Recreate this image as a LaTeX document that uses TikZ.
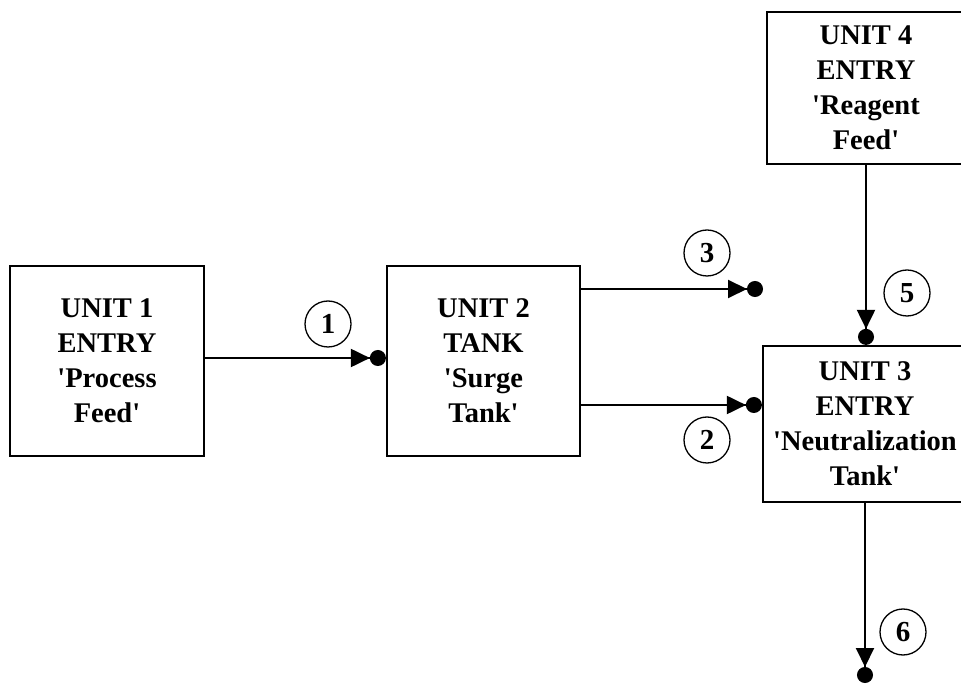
\documentclass[tikz,border=0pt]{standalone}
\usepackage{fontspec}
\setmainfont{Liberation Serif}[Ligatures=TeXOff]
\usetikzlibrary{arrows.meta}
\begin{document}
\begin{tikzpicture}[x=1pt,y=1pt,
  unitbox/.style={draw,line width=2.2pt,rectangle,align=center,inner sep=0pt,
    font=\fontsize{28.5}{35}\selectfont\bfseries},
  numcirc/.style={draw,circle,line width=1.3pt,minimum size=46pt,inner sep=0pt,
    font=\fontsize{29}{30}\selectfont\bfseries},
  flow/.style={line width=2pt,-{Triangle[length=19pt,width=18pt,sep=0pt]Circle[length=16pt,width=16pt]}}]
\useasboundingbox (0,0) rectangle (961,683);
\clip (0,0) rectangle (961,683);
\node[unitbox,minimum width=194pt,minimum height=190pt] (u1) at (107,322) {UNIT 1\\ENTRY\\'Process\\Feed'};
\node[unitbox,minimum width=193pt,minimum height=190pt] (u2) at (483.5,322) {UNIT 2\\TANK\\'Surge\\Tank'};
\node[unitbox,minimum width=204pt,minimum height=156pt] (u3) at (865,259) {UNIT 3\\ENTRY\\'Neutralization\\Tank'};
\node[unitbox,minimum width=198pt,minimum height=152pt] (u4) at (866,595) {UNIT 4\\ENTRY\\'Reagent\\Feed'};
\coordinate (e3) at (763,394);
\coordinate (e6) at (865,0);
\node[numcirc] (c1) at (328,359) {1};
\node[numcirc] (c3) at (707,430) {3};
\node[numcirc] (c2) at (707,243) {2};
\node[numcirc] (c5) at (907,390) {5};
\node[numcirc] (c6) at (903,51) {6};
\draw[flow] (u1.east |- 0,325) -- (u2.west |- 0,325);
\draw[flow] (u2.east |- e3) -- (e3);
\draw[flow] (u2.east |- 0,278) -- (u3.west |- 0,278);
\draw[flow] (u4.south) -- (u4.south |- u3.north);
\draw[flow] (u3.south) -- (e6);
\end{tikzpicture}
\end{document}
